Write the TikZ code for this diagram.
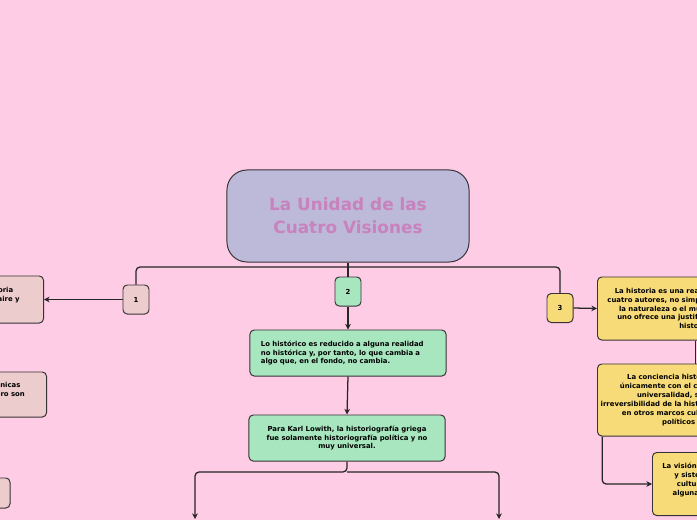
\documentclass[tikz,border=0pt]{standalone}
\usepackage{fontspec}
\setmainfont{DejaVu Sans}
\usetikzlibrary{arrows.meta,positioning}
\definecolor{pagepink}{RGB}{255,204,229}
\definecolor{titlefill}{RGB}{189,185,216}
\definecolor{titletext}{RGB}{200,130,190}
\definecolor{greenbox}{RGB}{168,230,192}
\definecolor{yellowbox}{RGB}{247,219,121}
\definecolor{rosebox}{RGB}{236,204,204}
\definecolor{edge}{RGB}{55,50,55}

\begin{document}
\begin{tikzpicture}[x=0.025cm, y=-0.025cm, >={Stealth[length=4pt,width=4pt]},
  font=\fontsize{4.9}{6.3}\selectfont\bfseries,
  bx/.style={draw=edge, line width=0.7pt, rounded corners=3pt, minimum width=4.9cm, inner sep=2pt, align=center},
  num/.style={bx, minimum width=0.65cm, minimum height=0.725cm},
  link/.style={line width=0.9pt, draw=black!85}]
\useasboundingbox (0,0) rectangle (697,520);
\clip (0,0) rectangle (697,520);
\fill[pagepink] (0,0) rectangle (697,520);

% central topic
\node[bx, fill=titlefill, minimum width=6.05cm, minimum height=2.3cm, rounded corners=0.5cm,
  text=titletext, font=\fontsize{12}{16.3}\selectfont\bfseries] (title) at (348,216)
  {La Unidad de las\\Cuatro Visiones};

% numbered branches
\node[num, fill=rosebox] (n1) at (136,299.5) {1};
\node[num, fill=greenbox] (n2) at (348,291.5) {2};
\node[num, fill=yellowbox] (n3) at (560,308) {3};
\coordinate (bar) at (348,267);
\draw[link, rounded corners=0.1cm] (n1.north) |- (bar) -| (n3.north);
\draw[link] (title.south) -- (n2.north);

% branch 1 (runs off the left edge)
\node[bx, fill=rosebox, anchor=east, minimum height=1.175cm] (l1) at (44,299.5)
  {El concepto moderno de la historia\\nace con el pensamiento de Voltaire y\\Hegel.};
\node[bx, fill=rosebox, anchor=east, minimum height=1.125cm] (l2) at (47,394.5)
  {Las cuatro visiones no son las únicas\\posibles acerca de la historia, pero son\\complementarias.};
\node[bx, fill=rosebox, anchor=east, minimum height=0.75cm] (l3) at (10.5,493) {};
\draw[link,->] (n1.west) -- (l1.east);

% branch 2
\node[bx, fill=greenbox, minimum height=1.15cm, text width=4.35cm, align=left] (ga) at (348,353)
  {Lo histórico es reducido a alguna realidad no histórica y, por tanto, lo que cambia a algo que, en el fondo, no cambia.};
\node[bx, fill=greenbox, minimum height=1.15cm] (gb) at (347,438)
  {Para Karl Lowith, la historiografía griega\\fue solamente historiografía política y no\\muy universal.};
\draw[link,->] (n2.south) -- (ga.north);
\draw[link,->] (ga.south) -- (gb.north);
\coordinate (fork) at (347,472);
\coordinate (downL) at (195,519);
\coordinate (downR) at (499,519);
\draw[link,->, rounded corners=0.1cm] (gb.south) -- (fork) -| (downL);
\draw[link,->, rounded corners=0.1cm] (fork) -| (downR);

% branch 3 (runs off the right edge)
\node[bx, fill=yellowbox, anchor=west, minimum height=1.575cm] (r1) at (597,308.5)
  {La historia es una realidad para todos los\\cuatro autores, no simplemente un reflejo de\\la naturaleza o el mundo divino, y cada\\uno ofrece una justificación propia de la\\historia.};
\node[bx, fill=yellowbox, anchor=west, minimum height=1.8cm] (r2) at (597,400)
  {La conciencia histórica se presenta\\únicamente con el cristianismo, con su\\universalidad, sin retorno y la\\irreversibilidad de la historia, algo que no existe\\en otros marcos culturales, sociales o\\políticos previos.};
\node[bx, fill=yellowbox, anchor=west, minimum height=1.575cm] (r3) at (652,484)
  {La visión griega del tiempo es cíclica, natural\\y sistemática, por lo que dentro de esa\\cultura no cabe la idea de un fin ni de\\alguna meta o sentido último en toda la\\historia.};
\draw[link,->] (n3.east) -- (r1.west);
\draw[link] (r1.south) -- (r2.north);
\draw[link,->, rounded corners=0.1cm] ([xshift=0.13cm]r2.south west) |- (r3.west);
\end{tikzpicture}
\end{document}
